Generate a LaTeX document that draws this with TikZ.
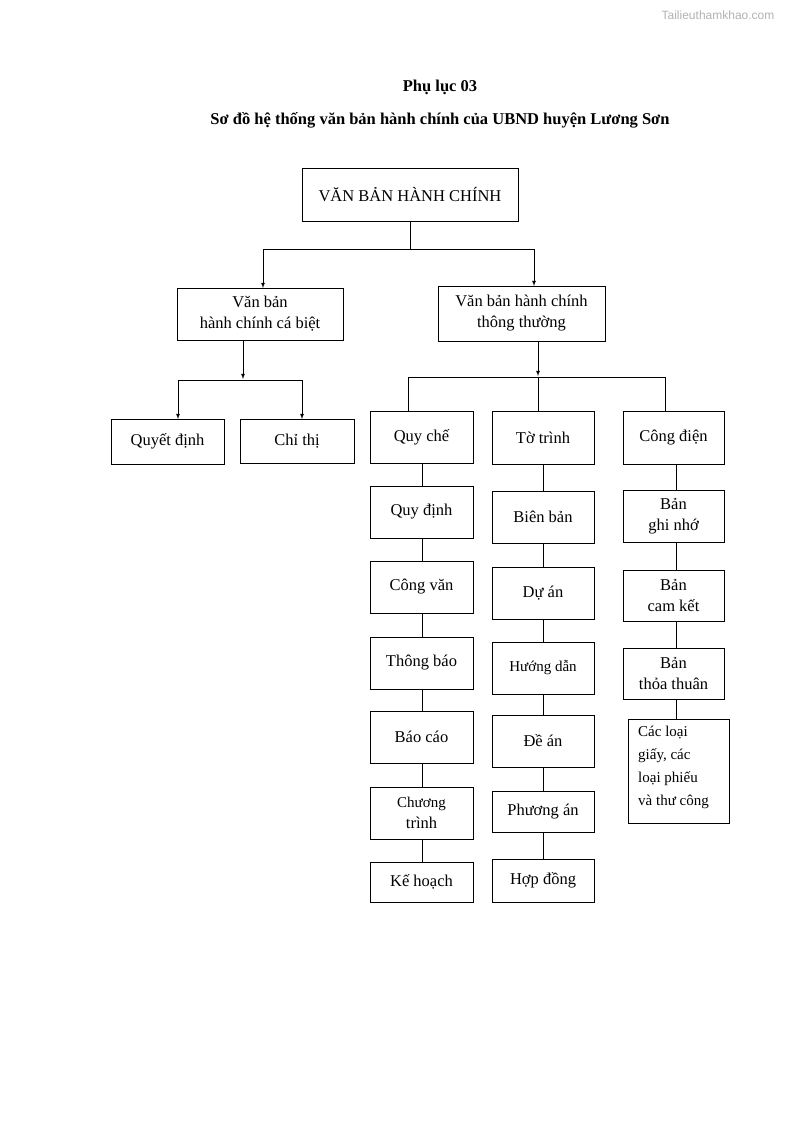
\documentclass[tikz,border=0pt]{standalone}
\usepackage{fontspec}
\setmainfont{Liberation Serif}
\newfontfamily\wm{Liberation Sans}
\begin{document}
\begin{tikzpicture}[x=1pt,y=-1pt,
  bx/.style={draw,thick,inner sep=0pt,align=center,font=\fontsize{16.5}{21}\selectfont},
  ln/.style={thick},
  ar/.style={thick,-latex}]
\useasboundingbox (0,0) rectangle (794,1123);
\newcommand\B[6]{\node[bx,minimum width=#4-#2,minimum height=#5-#3] (#1) at ({(#2+#4)/2},{(#3+#5)/2}) {#6};}
\node[font=\wm\fontsize{12}{14}\selectfont,text=gray!60] (wm) at (718,15) {Tailieuthamkhao.com};
\node[font=\bfseries\fontsize{16.5}{20}\selectfont] (t1) at (440,87) {Phụ lục 03};
\node[font=\bfseries\fontsize{16.5}{20}\selectfont] (t2) at (440,120) {Sơ đồ hệ thống văn bản hành chính của UBND huyện Lương Sơn};
\B{root}{302}{168}{518}{221}{VĂN BẢN HÀNH CHÍNH}
\B{A}{177}{288}{343}{340}{Văn bản\\hành chính cá biệt}
\B{Bb}{438}{286}{605}{341}{Văn bản hành chính\\thông thường}
\B{qd}{111}{419}{224}{464}{Quyết định}
\B{ct}{240}{419}{354}{463}{Chỉ thị}
% column 1
\B{c1a}{370}{411}{473}{463}{Quy chế}
\B{c1b}{370}{486}{473}{538}{Quy định}
\B{c1c}{370}{561}{473}{613}{Công văn}
\B{c1d}{370}{637}{473}{689}{Thông báo}
\B{c1e}{370}{711}{473}{763}{Báo cáo}
\B{c1f}{370}{787}{473}{839}{\fontsize{15}{21}\selectfont Chương\\trình}
\B{c1g}{370}{862}{473}{902}{Kế hoạch}
% column 2
\B{c2a}{492}{411}{594}{464}{Tờ trình}
\B{c2b}{492}{491}{594}{543}{Biên bản}
\B{c2c}{492}{567}{594}{619}{Dự án}
\B{c2d}{492}{642}{594}{694}{\fontsize{15}{18}\selectfont Hướng dẫn}
\B{c2e}{492}{715}{594}{767}{Đề án}
\B{c2f}{492}{791}{594}{832}{Phương án}
\B{c2g}{492}{859}{594}{902}{Hợp đồng}
% column 3
\B{c3a}{623}{411}{724}{464}{Công điện}
\B{c3b}{623}{490}{724}{542}{Bản\\ghi nhớ}
\B{c3c}{623}{570}{724}{621}{Bản\\cam kết}
\B{c3d}{623}{648}{724}{699}{Bản\\thỏa thuân}
\node[draw,thick,minimum width=101,minimum height=104,inner sep=0pt] (c3e) at (678.5,771) {};
\node[anchor=north west,align=left,inner sep=0pt,font=\fontsize{15}{23}\selectfont] (c3et) at (638,726) {Các loại\\giấy, các\\loại phiếu\\và thư công};
% connectors
\coordinate (j0) at (410,249);
\draw[ln] (root.south -| j0) -- (j0);
\draw[ar] (j0) -| (263,288);
\draw[ar] (j0) -| (534,286);
\coordinate (j1) at (243,380);
\draw[ar] (243,340) -- (243,379);
\draw[ar] (178,380) -- (178,419);
\draw[ar] (178,380) -- (302,380) -- (302,419);
\draw[ar] (538,341) -- (538,376);
\draw[ln] (408,411) -- (408,377) -- (665,377) -- (665,411);
\draw[ln] (538,377) -- (538,411);
\foreach \a/\b in {c1a/c1b,c1b/c1c,c1c/c1d,c1d/c1e,c1e/c1f,c1f/c1g}{\draw[ln] (\a.south -| 422,0) -- (\b.north -| 422,0);}
\foreach \a/\b in {c2a/c2b,c2b/c2c,c2c/c2d,c2d/c2e,c2e/c2f,c2f/c2g}{\draw[ln] (\a.south -| 543,0) -- (\b.north -| 543,0);}
\foreach \a/\b in {c3a/c3b,c3b/c3c,c3c/c3d,c3d/c3e}{\draw[ln] (\a.south -| 676,0) -- (\b.north -| 676,0);}
\end{tikzpicture}
\end{document}
